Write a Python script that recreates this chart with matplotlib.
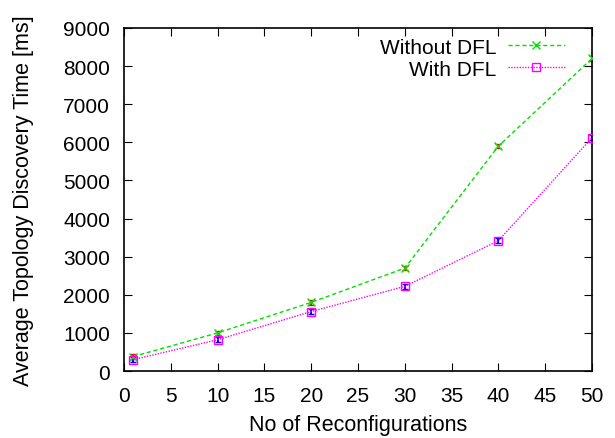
import matplotlib
matplotlib.use("Agg")
import matplotlib.pyplot as plt

plt.rcParams['font.family'] = ['Liberation Sans', 'DejaVu Sans']

x = [1, 10, 20, 30, 40, 50]
without_dfl = [380, 1000, 1800, 2700, 5900, 8200]
with_dfl = [300, 820, 1560, 2220, 3420, 6120]
err_without = [60, 60, 60, 60, 60, 60]
err_with = [60, 60, 60, 60, 60, 60]

fig = plt.figure(figsize=(6.15, 4.39), dpi=100)
ax = fig.add_axes([124/615, 1-372/439, (592-124)/615, (372-29)/439])

ax.errorbar(x, without_dfl, yerr=err_without, fmt='none', ecolor='red', elinewidth=1.5, capsize=2, zorder=2)
ax.errorbar(x, with_dfl, yerr=err_with, fmt='none', ecolor='blue', elinewidth=1.5, capsize=2, zorder=2)
ax.plot(x, without_dfl, color='#00e000', linestyle=(0, (3, 2)), linewidth=1, marker='x',
        markersize=6, markeredgewidth=1, label='Without DFL', zorder=3)
ax.plot(x, with_dfl, color='#ff00ff', linestyle=(0, (1, 1)), linewidth=1, marker='s',
        markersize=6, markerfacecolor='none', markeredgewidth=1, label='With DFL', zorder=3)

ax.set_xlim(0, 50)
ax.set_ylim(0, 9000)
ax.set_xticks(range(0, 51, 5))
ax.set_yticks(range(0, 9001, 1000))
ax.tick_params(direction='in', top=True, right=True, length=6, labelsize=15)
ax.tick_params(axis='y', pad=10)
ax.tick_params(axis='x', pad=11)
for s in ax.spines.values():
    s.set_linewidth(1.2)
ax.set_xlabel('No of Reconfigurations', fontsize=15.5, labelpad=6)
ax.set_ylabel('Average Topology Discovery Time [ms]', fontsize=15.5, labelpad=21)

leg = ax.legend(loc='upper right', bbox_to_anchor=(0.942, 0.972), frameon=False, markerfirst=False,
                fontsize=15, handlelength=2.75, handletextpad=0.55, labelspacing=0.15,
                borderaxespad=0, borderpad=0)

fig.savefig('out.png', dpi=100)
